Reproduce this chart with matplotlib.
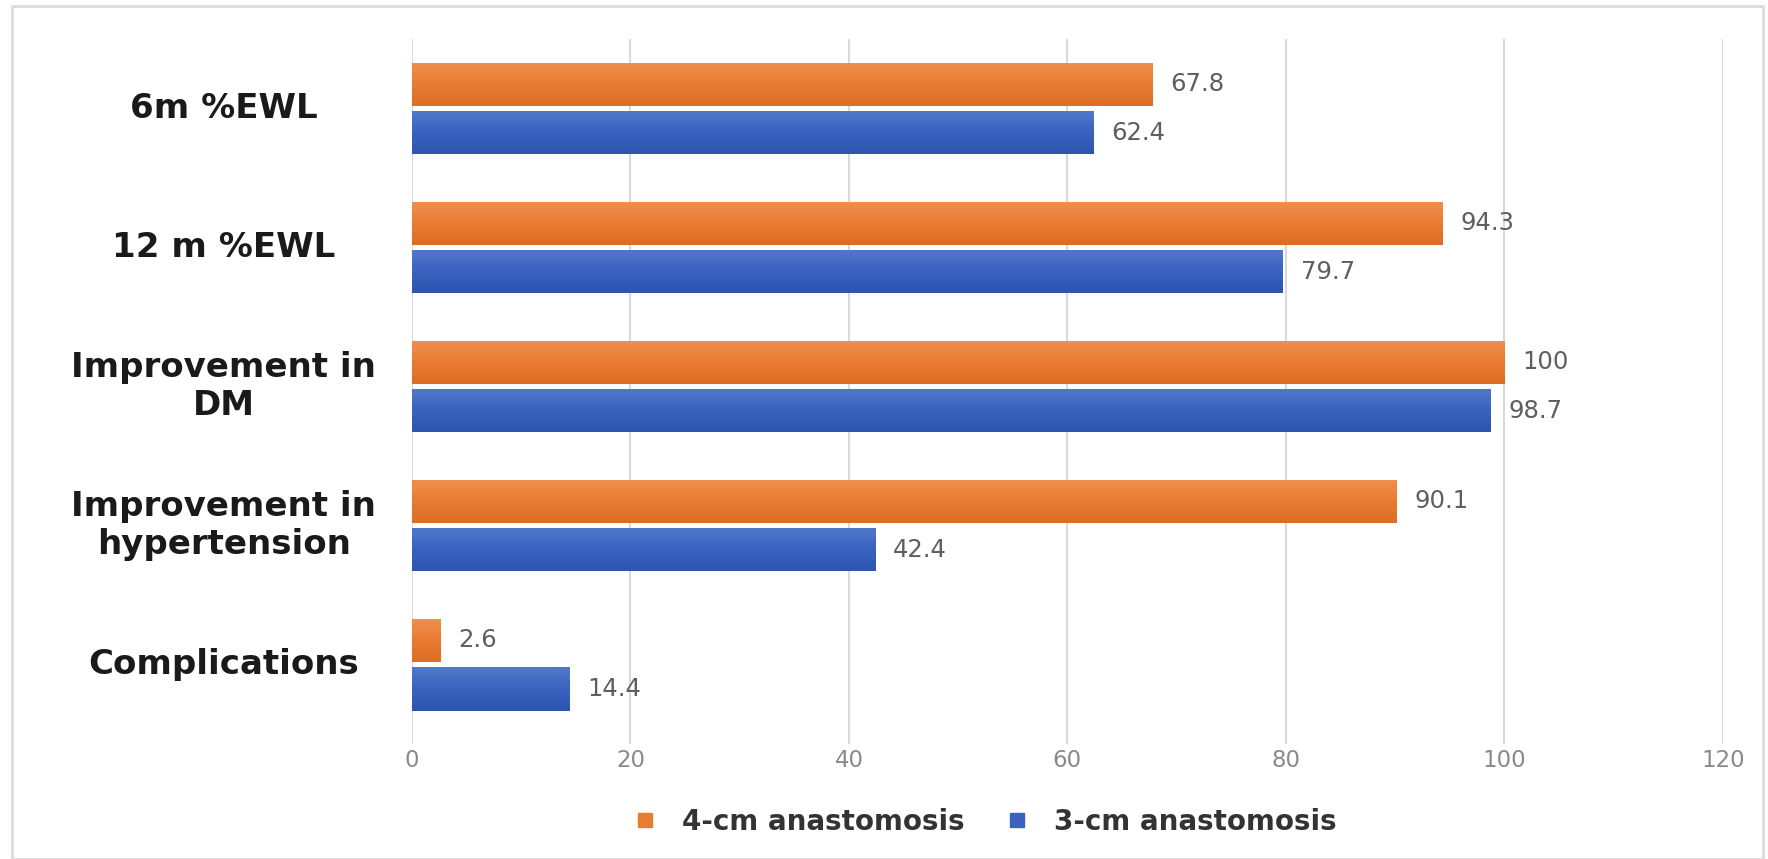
import numpy as np
import matplotlib.pyplot as plt
from matplotlib.patches import Rectangle
from matplotlib.lines import Line2D
from matplotlib.colors import LinearSegmentedColormap

categories = ['6m %EWL', '12 m %EWL', 'Improvement in\nDM',
              'Improvement in\nhypertension', 'Complications']
four_cm = [67.8, 94.3, 100, 90.1, 2.6]
three_cm = [62.4, 79.7, 98.7, 42.4, 14.4]
series_names = ['4-cm anastomosis', '3-cm anastomosis']
xticks = [0, 20, 40, 60, 80, 100, 120]

orange = '#E97B33'
blue = '#3A62C0'
orange_grad = LinearSegmentedColormap.from_list('og', ['#F0904F', '#E97B33', '#DD6D25'])
blue_grad = LinearSegmentedColormap.from_list('bg', ['#5179C9', '#3A62C0', '#2C55AE'])

fig = plt.figure(figsize=(17.68, 8.59), dpi=100)
ax = fig.add_axes([0.233, 0.134, 0.7415, 0.8206])

y = np.arange(len(categories))
h = 0.31
off = 0.175
bars_o = ax.barh(y - off, four_cm, height=h, color=orange, edgecolor='none', zorder=3)
bars_b = ax.barh(y + off, three_cm, height=h, color=blue, edgecolor='none', zorder=3)

# vertical gradient inside each bar (light top, darker bottom)
grad = np.linspace(0, 1, 64).reshape(-1, 1)
for bars, cmap in [(bars_o, orange_grad), (bars_b, blue_grad)]:
    for b in bars:
        x0, y0 = b.get_x(), b.get_y()
        im = ax.imshow(grad, cmap=cmap, aspect='auto', zorder=4,
                       extent=(x0, x0 + b.get_width(), y0 + b.get_height(), y0),
                       origin='upper', interpolation='bilinear')
        im.set_clip_path(b)

for yy, v in zip(y - off, four_cm):
    ax.text(v + 1.65, yy, f'{v:g}', va='center', ha='left', fontsize=17.5,
            color='#5e5e5e', family='DejaVu Sans')
for yy, v in zip(y + off, three_cm):
    ax.text(v + 1.65, yy, f'{v:g}', va='center', ha='left', fontsize=17.5,
            color='#5e5e5e', family='DejaVu Sans')

ax.set_xlim(0, 120)
ax.set_ylim(4.57, -0.5)
ax.set_xticks(xticks)
ax.set_xticklabels([str(t) for t in xticks], fontsize=16.5, color='#8a8a8a')
ax.set_yticks(y)
ax.set_yticklabels([])
for yy, lab in zip(y, categories):
    ax.text(-0.1435, yy, lab, transform=ax.get_yaxis_transform(), ha='center', va='center',
            fontsize=24.5, fontweight='bold', family='DejaVu Sans', color='#1a1a1a',
            linespacing=1.2)
ax.tick_params(axis='both', length=0, pad=4)
ax.grid(axis='x', color='#d9d9d9', linewidth=1.5, zorder=0)
for s in ax.spines.values():
    s.set_visible(False)

handles = [Line2D([], [], marker='s', linestyle='', markersize=10.5, color=orange),
           Line2D([], [], marker='s', linestyle='', markersize=10.5, color=blue)]
leg = fig.legend(handles, series_names, loc='center', bbox_to_anchor=(0.5566, 0.043), ncol=2,
                 frameon=False, handlelength=1.0, handletextpad=0.84, columnspacing=1.38,
                 prop={'family': 'DejaVu Sans', 'weight': 'bold', 'size': 20})
for t in leg.get_texts():
    t.set_color('#333333')

fig.patches.append(Rectangle((0.007, 0.0), 0.99, 0.993, transform=fig.transFigure,
                             fill=False, edgecolor='#dcdcdc', linewidth=2))

fig.savefig('out.png', dpi=100)
